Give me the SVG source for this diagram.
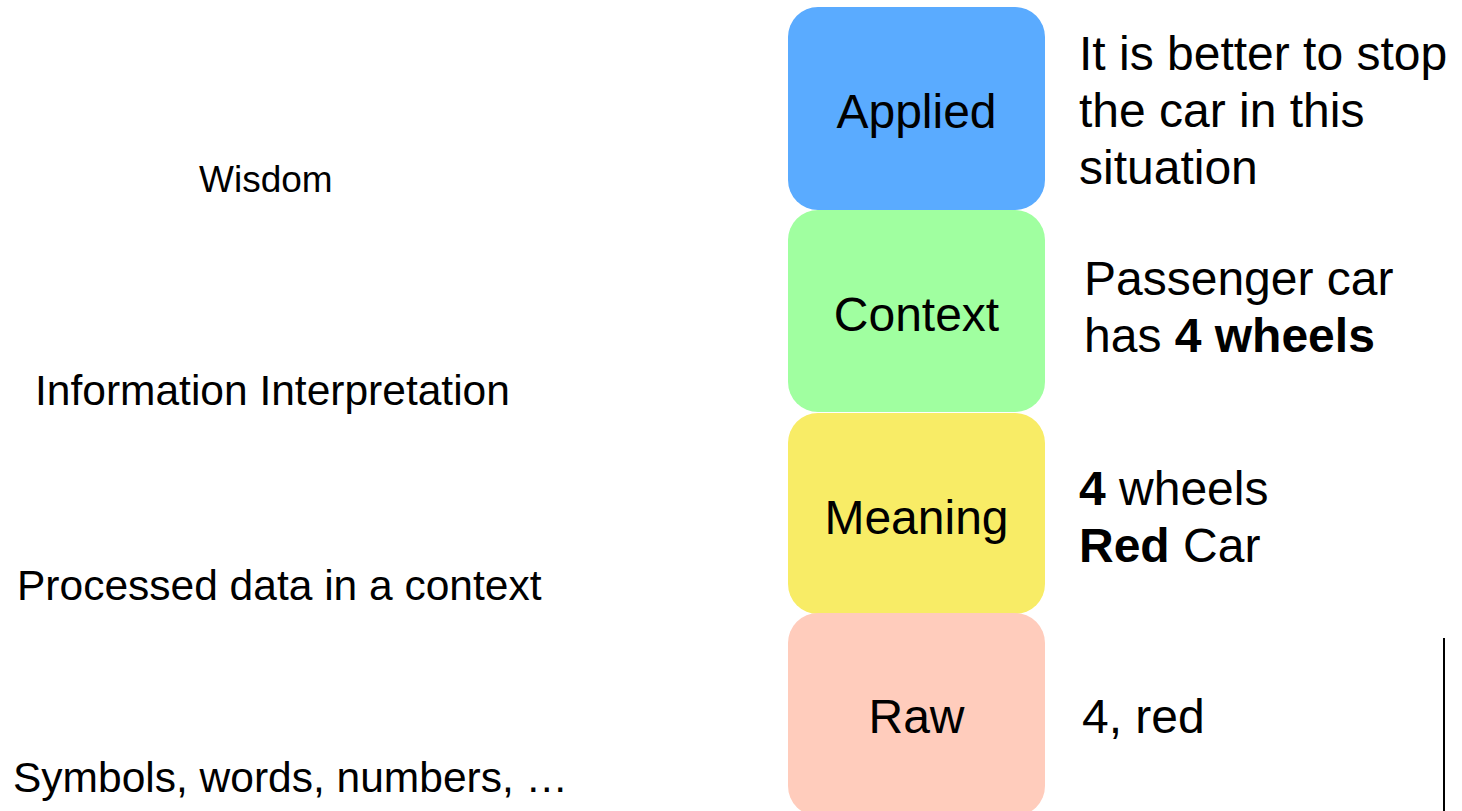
<svg xmlns="http://www.w3.org/2000/svg" width="1462" height="811" viewBox="0 0 1462 811">
  <style>
    text { font-family: "Liberation Sans", Arial, sans-serif; fill: #000; }
    .box { stroke: none; }
    .lbl { font-size: 48px; text-anchor: middle; }
    .desc { font-size: 48px; }
    .side { font-size: 42.5px; }
    .b { font-weight: bold; }
  </style>
  <rect width="1462" height="811" fill="#fff"/>

  <!-- level boxes, stacked top to bottom -->
  <g id="applied">
    <rect class="box" x="788" y="7" width="257" height="203" rx="30" fill="#5aabff"/>
    <text class="lbl" x="916.5" y="128">Applied</text>
  </g>
  <g id="context">
    <rect class="box" x="788" y="210" width="257" height="202" rx="30" fill="#a0ffa0"/>
    <text class="lbl" x="916.5" y="331">Context</text>
  </g>
  <g id="meaning">
    <rect class="box" x="788" y="413" width="257" height="201" rx="30" fill="#f8ec66"/>
    <text class="lbl" x="916.5" y="534">Meaning</text>
  </g>
  <g id="raw">
    <rect class="box" x="788" y="613" width="257" height="203" rx="30" fill="#ffccbc"/>
    <text class="lbl" x="916.5" y="733">Raw</text>
  </g>

  <!-- examples on the right -->
  <g id="example-applied">
    <text class="desc" x="1079" y="70">It is better to stop</text>
    <text class="desc" x="1079" y="127">the car in this</text>
    <text class="desc" x="1079" y="184">situation</text>
  </g>
  <g id="example-context">
    <text class="desc" x="1084" y="295">Passenger car</text>
    <text class="desc" x="1084" y="352">has <tspan class="b">4 wheels</tspan></text>
  </g>
  <g id="example-meaning">
    <text class="desc" x="1079" y="505"><tspan class="b">4</tspan> wheels</text>
    <text class="desc" x="1079" y="562"><tspan class="b">Red</tspan> Car</text>
  </g>
  <g id="example-raw">
    <text class="desc" x="1082" y="733">4, red</text>
  </g>

  <!-- descriptions on the left -->
  <g id="desc-wisdom">
    <text x="199" y="192" style="font-size:37px">Wisdom</text>
  </g>
  <g id="desc-information">
    <text class="side" x="35" y="405">Information Interpretation</text>
  </g>
  <g id="desc-processed">
    <text class="side" x="17" y="600">Processed data in a context</text>
  </g>
  <g id="desc-symbols">
    <text class="side" x="13" y="792">Symbols, words, numbers, …</text>
  </g>

  <g id="connectors">
    <line x1="1444" y1="638" x2="1444" y2="811" stroke="#000" stroke-width="2"/>
  </g>
</svg>
